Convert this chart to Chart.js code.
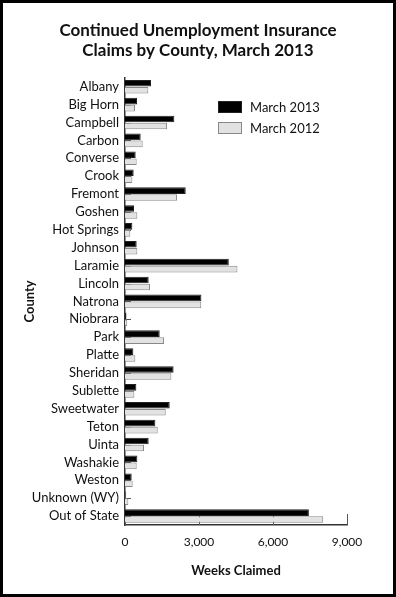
<!DOCTYPE html>
<html lang="en">
<head>
  <meta charset="UTF-8" />
  <title>Continued Unemployment Insurance Claims by County</title>
  <script src="https://cdn.jsdelivr.net/npm/chart.js"></script>
  <style>
    html, body { margin: 0; padding: 0; background: #fff; }
    #wrap { position: relative; width: 396px; height: 597px; box-sizing: border-box; border: 3px solid #000; background: #fff; }
    #legend { position: absolute; left: 215px; top: 93px; font-family: Lato, sans-serif; font-size: 13px; color: #111; }
    .item { display: flex; align-items: center; height: 21px; }
    .box { width: 24px; height: 12px; margin-right: 8px; box-sizing: border-box; }
  </style>
</head>
<body>
  <div id="wrap">
    <canvas id="chart" width="390" height="591"></canvas>
    <div id="legend">
      <div class="item"><span class="box" style="background:#000;border:1px solid #222"></span>March 2013</div>
      <div class="item"><span class="box" style="background:#e2e2e2;border:1px solid #888"></span>March 2012</div>
    </div>
  </div>

  <script>
    const counties = ['Albany', 'Big Horn', 'Campbell', 'Carbon', 'Converse', 'Crook', 'Fremont', 'Goshen',
      'Hot Springs', 'Johnson', 'Laramie', 'Lincoln', 'Natrona', 'Niobrara', 'Park', 'Platte', 'Sheridan',
      'Sublette', 'Sweetwater', 'Teton', 'Uinta', 'Washakie', 'Weston', 'Unknown (WY)', 'Out of State'];
    const march2013 = [1055, 487, 2001, 636, 433, 352, 2462, 365, 298, 473, 4208, 960, 3098, 60, 1407, 338, 1970,
      460, 1813, 1231, 960, 500, 271, 30, 7455];
    const march2012 = [946, 406, 1705, 717, 473, 298, 2110, 500, 216, 500, 4559, 1014, 3090, 90, 1583, 419, 1880,
      379, 1651, 1326, 771, 473, 311, 135, 8036];
    const xTicks = [0, 3000, 6000, 9000];

    const FONT = 'Lato, sans-serif';

    // short tick marks drawn inside the plot, under the bars
    const innerTicks = {
      id: 'innerTicks',
      beforeDatasetsDraw(chart) {
        const { ctx, chartArea, scales } = chart;
        ctx.save();
        ctx.strokeStyle = '#555';
        ctx.lineWidth = 1;
        ctx.beginPath();
        counties.forEach((c, i) => {
          const y = Math.round(scales.y.getPixelForTick(i)) + 0.5;
          ctx.moveTo(chartArea.left, y);
          ctx.lineTo(chartArea.left + 6, y);
        });
        xTicks.forEach(v => {
          const x = Math.round(scales.x.getPixelForValue(v)) + 0.5;
          ctx.moveTo(x, chartArea.bottom);
          ctx.lineTo(x, chartArea.bottom - 11);
        });
        ctx.stroke();
        ctx.restore();
      }
    };

    new Chart(document.getElementById('chart'), {
      type: 'bar',
      data: {
        labels: counties,
        datasets: [
          { label: 'March 2013', data: march2013, backgroundColor: '#000', borderColor: '#222', borderWidth: 1,
            categoryPercentage: 0.78, barPercentage: 0.95 },
          { label: 'March 2012', data: march2012, backgroundColor: '#e2e2e2', borderColor: '#888', borderWidth: 1,
            categoryPercentage: 0.78, barPercentage: 0.95 }
        ]
      },
      options: {
        indexAxis: 'y',
        responsive: false,
        animation: false,
        devicePixelRatio: 1,
        layout: { padding: 0 },
        plugins: {
          legend: { display: false },
          tooltip: { enabled: false },
          title: {
            display: true,
            text: ['Continued Unemployment Insurance', 'Claims by County, March 2013'],
            color: '#111',
            font: { family: FONT, size: 17, weight: 'bold', lineHeight: 1.2 },
            padding: { top: 17, bottom: 17 }
          }
        },
        scales: {
          x: {
            min: 0,
            max: 9000,
            afterBuildTicks: s => { s.ticks = xTicks.map(v => ({ value: v })); },
            // fixed height, and keep the plot clear of the right edge without moving the title
            afterFit: s => { s.height = 69; s.paddingRight = 46; },
            grid: { display: false, drawTicks: false },
            border: { display: true, color: '#333', width: 1.5 },
            ticks: {
              color: '#111',
              padding: 10,
              font: { family: FONT, size: 12 },
              callback: v => v.toLocaleString('en-US')
            },
            title: {
              display: true,
              text: 'Weeks Claimed',
              color: '#111',
              font: { family: FONT, size: 13, weight: 'bold' },
              padding: { top: 0, bottom: 15 }
            }
          },
          y: {
            afterFit: s => { s.width = 122; },
            grid: { display: false, drawTicks: false },
            border: { display: true, color: '#333', width: 1.5 },
            ticks: {
              color: '#111',
              padding: 6,
              autoSkip: false,
              font: { family: FONT, size: 13 }
            },
            title: {
              display: true,
              text: 'County',
              color: '#111',
              font: { family: FONT, size: 13, weight: 'bold' },
              padding: { top: 19, bottom: 0 }
            }
          }
        }
      },
      plugins: [innerTicks]
    });
  </script>
</body>
</html>
